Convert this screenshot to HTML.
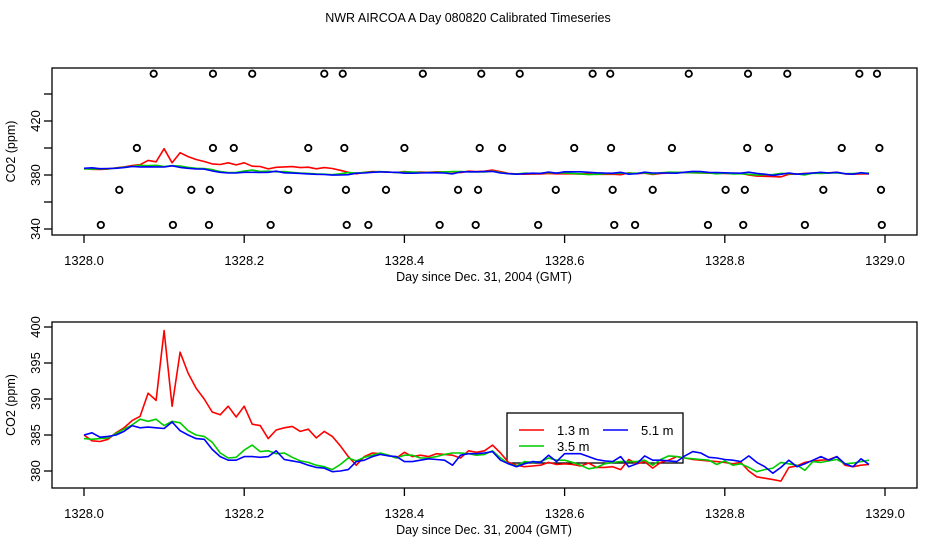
<!DOCTYPE html>
<html><head><meta charset="utf-8"><style>
body{margin:0;background:#fff}
svg{display:block;font-family:"Liberation Sans",sans-serif}
</style></head><body>
<svg id="chart" width="936" height="540" viewBox="0 0 936 540" xmlns="http://www.w3.org/2000/svg">
<text x="468" y="22" font-size="12.5" text-anchor="middle">NWR AIRCOA A  Day 080820  Calibrated Timeseries</text>
<g id="top"></g>
<g id="bot"></g>
</svg>
<script>
const days = [];
for (let i = 0; i <= 98; i++) days.push(1328 + i * 0.01);
const red = [385,384.2,384.1,384.4,385.3,386.0,387.0,387.6,390.8,389.8,399.5,389,396.5,393.6,391.5,390,388.2,387.8,389,387.5,389,386.5,386.3,384.5,385.7,386,386.2,385.5,385.8,384.6,385.5,384.8,383.5,382,380.8,382,382.5,382.4,382.2,381.8,382.6,382,382.2,382,382.4,382.3,382.2,381.8,382.8,382.6,382.8,383.6,382.5,381.2,380.8,380.6,380.7,380.8,381.2,380.9,381,380.9,380.7,381.1,380.5,380.5,380.6,380.2,381.6,381,381.3,380.4,381.2,381.5,382,381.8,381.6,381.5,381.4,381.3,381.2,381,381.2,380,379.2,379,378.8,378.6,380.5,380.7,381.2,381.4,381.5,381.6,382,380.8,380.6,380.8,380.9];
const green = [384.5,384.4,384.5,384.6,385.2,385.8,386.4,387.2,386.9,387.2,386.3,386.9,386.7,385.6,385,384.8,384,382.5,381.8,381.9,382.9,383.6,382.7,382.8,382.4,382.5,381.9,381.4,381.2,380.8,380.6,380.2,380.9,381.8,381.4,381.9,382.2,382.5,382.2,381.8,382.2,382.2,381.8,381.8,382,382.3,382.5,382.5,382.4,382.2,382.3,382.8,381.8,381,380.7,381.3,381.2,381.3,381.8,381.5,381.5,381.2,380.8,380.3,380.5,381,381.2,381.3,381.3,381.3,381.5,380.8,381.6,382.1,382,381.8,381.7,381.6,381.5,380.9,381.4,380.8,381,380.5,379.9,380.2,380.4,381.2,381,380.8,380.1,381.3,381.2,381.4,381.6,381,381.1,381.3,381.5];
const blue = [385,385.3,384.7,384.8,385,385.5,386.3,386,386.1,386,385.9,386.8,385.6,385,384.5,384.4,383,382,381.5,381.5,382,382,381.9,382,382.8,381.6,381.4,381.2,380.8,380.5,380.4,379.9,380,380.2,381.3,381.5,382,382.3,382.1,382,381.3,381.3,381.5,381.7,381.6,381.5,380.8,382.2,382.4,382.4,382.5,382.7,381.5,381,380.6,381,381.3,381.2,382.2,381.3,382.4,382.4,382.4,382,381.6,381.4,381.3,382,380.6,381,382.1,381.5,381.5,381.4,381.3,382.1,382.7,382.5,381.9,381.8,381.6,381.5,381.3,382.1,381.2,380.6,379.7,380.5,381.5,380.6,381,381.5,382,381.5,382,381,380.6,381.7,380.9];
const flagDays455 = [0.087,0.161,0.210,0.300,0.323,0.423,0.496,0.544,0.635,0.657,0.755,0.829,0.878,0.968,0.990];
const flagDays400 = [0.066,0.161,0.187,0.280,0.325,0.400,0.494,0.522,0.612,0.658,0.734,0.828,0.855,0.946,0.993];
const flagDays369 = [0.044,0.134,0.157,0.255,0.327,0.377,0.467,0.492,0.589,0.660,0.710,0.801,0.825,0.923,0.995];
const flagDays343 = [0.021,0.111,0.156,0.233,0.328,0.355,0.444,0.489,0.567,0.662,0.688,0.779,0.823,0.900,0.996];
const flagLevels = [455,400,369,343];
const xTicks = [1328.0,1328.2,1328.4,1328.6,1328.8,1329.0];
const topYTicks = [340,360,380,400,420,440];
const topYLabels = [340,380,420];
const botYTicks = [380,385,390,395,400];
const NS = "http://www.w3.org/2000/svg";
function mk(parent, tag, attrs){const e=document.createElementNS(NS,tag);for(const k in attrs)e.setAttribute(k,attrs[k]);parent.appendChild(e);return e;}
const X = d => 84 + (d - 1328) * 801;
const L=52,R=917;
function panel(g, top, bottom, Y, yTicks, yLabels, isTop){
  const box = mk(g,'rect',{x:L,y:top,width:R-L,height:bottom-top,fill:'none',stroke:'#000','stroke-width':1.3});
  
  
  xTicks.forEach(t=>{
    const tk=mk(g,'line',{x1:X(t),x2:X(t),y1:bottom,y2:bottom+8,stroke:'#000','stroke-width':1.3});
    
    
    const tx=mk(g,'text',{x:X(t),y:bottom+30,'font-size':13,'text-anchor':'middle'});
    
    
    tx.textContent=t.toFixed(1);
  });
  yTicks.forEach(t=>{
    const tk=mk(g,'line',{x1:L-8,x2:L,y1:Y(t),y2:Y(t),stroke:'#000','stroke-width':1.3});
    
    
  });
  yLabels.forEach(t=>{
    const tx=mk(g,'text',{x:0,y:0,'font-size':13,'text-anchor':'middle',transform:`translate(${L-12},${Y(t)}) rotate(-90)`});
    
    
    tx.textContent=t;
  });
  const xl=mk(g,'text',{x:484,y:bottom+46,'font-size':12.5,'text-anchor':'middle'});
  
  
  xl.textContent='Day since Dec. 31, 2004 (GMT)';
  const yl=mk(g,'text',{x:0,y:0,'font-size':12.5,'text-anchor':'middle',transform:`translate(15,${(top+bottom)/2}) rotate(-90)`});
  
  
  yl.textContent='CO2 (ppm)';
}
function series(g,Y,vals,color,name){
  const pts=vals.map((v,i)=>X(days[i]).toFixed(1)+','+Y(v).toFixed(1)).join(' ');
  const p=mk(g,'polyline',{points:pts,fill:'none',stroke:color,'stroke-width':1.6,'stroke-linejoin':'round'});
  
  
}
// top panel
const gt=document.getElementById('top');
const Yt=v=>175-(v-380)*1.35;
panel(gt,68,235,Yt,topYTicks,topYLabels,true);
[flagDays455,flagDays400,flagDays369,flagDays343].forEach((arr,k)=>{
  arr.forEach(d=>{
    const c=mk(gt,'circle',{cx:X(1328+d),cy:Yt(flagLevels[k]),r:3.2,fill:'none',stroke:'#000','stroke-width':1.8});
    
    
  });
});
series(gt,Yt,red,'#f00','top-series-1-3m');
series(gt,Yt,green,'#0c0','top-series-3-5m');
series(gt,Yt,blue,'#00f','top-series-5-1m');
// bottom panel
const gb=document.getElementById('bot');
const Yb=v=>471-(v-380)*7.2;
panel(gb,322,488,Yb,botYTicks,botYTicks,false);
const lg=mk(gb,'g',{});


mk(lg,'rect',{x:507,y:413,width:176,height:50,fill:'#fff',stroke:'#000','stroke-width':1.3});
const items=[['1.3 m','#f00',519,431],['5.1 m','#00f',603,431],['3.5 m','#0c0',519,447]];
items.forEach(it=>{
  const ln=mk(lg,'line',{x1:it[2],x2:it[2]+25,y1:it[3]-1,y2:it[3]-1,stroke:it[1],'stroke-width':1.4});
  
  
  const t=mk(lg,'text',{x:it[2]+38,y:it[3]+4,'font-size':13});
  
  
  t.textContent=it[0];
});
series(gb,Yb,red,'#f00','series-1-3m');
series(gb,Yb,green,'#0c0','series-3-5m');
series(gb,Yb,blue,'#00f','series-5-1m');
</script>
</body></html>
